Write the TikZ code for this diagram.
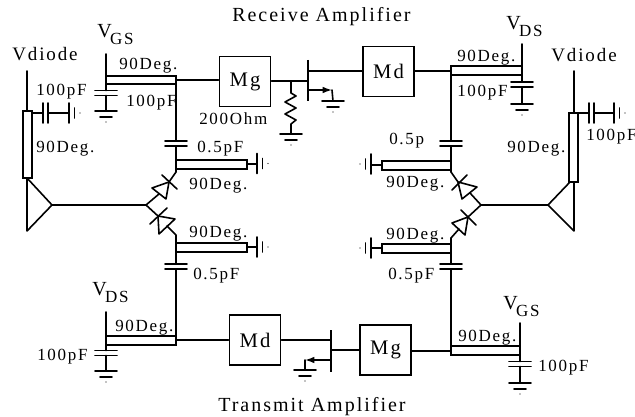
\documentclass[tikz,border=0pt]{standalone}
\usepackage{fontspec}
\setmainfont[LetterSpace=10]{Liberation Serif}
\usetikzlibrary{arrows.meta}
\newcommand{\vsub}[1]{\fontsize{15}{15}\selectfont V\kern-1.2pt\raisebox{-5.25pt}{\fontsize{12.75}{13}\selectfont #1}}
\tikzset{
  wire/.style={line width=1.2pt,line cap=round,line join=round},
  thinw/.style={line width=1pt,line cap=round},
  stubbox/.style={line width=1.3pt,line join=miter},
  lbl/.style={anchor=base west,inner sep=0pt,font=\fontsize{12.75}{13}\selectfont},
  big/.style={anchor=base west,inner sep=0pt,font=\fontsize{15}{15}\selectfont},
  amp/.style={draw,line width=1.2pt,inner sep=0pt,minimum width=38.5pt,minimum height=37.5pt,font=\fontsize{15.5}{16}\selectfont},
  vcap/.pic={\draw[wire] (-11,-2.5)--(11,-2.5) (-11,2.5)--(11,2.5);},
  hcap/.pic={\draw[wire] (-2.5,-10)--(-2.5,10) (2.5,-10)--(2.5,10);},
  gndd/.pic={\draw[wire] (-11,0)--(11,0) (-6,6)--(6,6); \fill (0,11) circle (0.7);},
  gndr/.pic={\draw[wire] (0,-10)--(0,10) (5.5,-5)--(5.5,5); \fill (11,0) circle (0.7);},
  gndl/.pic={\draw[wire] (0,-10)--(0,10) (-5.5,-5)--(-5.5,5); \fill (-11,0) circle (0.7);}
}
\begin{document}
\begin{tikzpicture}[x=0.75pt,y=-0.75pt]
\useasboundingbox (0,0) rectangle (635,417);
% ---------- named points
\coordinate (LVd) at (27,71);
\coordinate (LBa) at (23,111);
\coordinate (LBb) at (32,178);
\coordinate (LTop) at (27,111);
\coordinate (LTa) at (27,178);
\coordinate (LTb) at (27,231);
\coordinate (LTc) at (52,205);
\coordinate (LJ) at (146,205);
\coordinate (LCa) at (32,113);
\coordinate (LCb) at (43,113);
\coordinate (LCc) at (48,113);
\coordinate (LCd) at (69,113);
\coordinate (RVd) at (574,71);
\coordinate (RTop) at (574,113);
\coordinate (RBa) at (569,113);
\coordinate (RBb) at (578,182);
\coordinate (RTa) at (574,182);
\coordinate (RTa2) at (570,182);
\coordinate (RTb) at (574,231);
\coordinate (RTc) at (548,205);
\coordinate (RJ) at (481,205);
\coordinate (RCa) at (578,113);
\coordinate (RCb) at (589,113);
\coordinate (RCc) at (594,113);
\coordinate (RCd) at (614,113);
% ---------- amplifier boxes
\node[amp] (MgR) at (245,81.5) {Mg};
\node[amp] (MdR) at (388.5,71.5) {Md};
\node[amp] (MdT) at (255,340) {Md};
\node[amp] (MgT) at (385.5,350) {Mg};
% ---------- left antenna and bias
\draw[wire] (LVd)--(LTop);
\draw[stubbox] (LBa) rectangle (LBb);
\draw[wire] (LTa)--(LTb)--(LTc)--cycle;
\draw[wire] (LTc)--(LJ);
\draw[wire] (LCa)--(LCb) (LCc)--(LCd);
\path (45.5,113) pic {hcap};
\path (69,113) pic {gndr};
% ---------- right antenna and bias
\draw[wire] (RVd)--(RTop);
\draw[stubbox] (RBa) rectangle (RBb);
\draw[wire] (RTa2)--(RTc)--(RTb)--(RTa);
\draw[wire] (RTc)--(RJ);
\draw[wire] (RCa)--(RCb) (RCc)--(RCd);
\path (591.5,113) pic {hcap};
\path (614,113) pic {gndr};
% ---------- upper left branch
\coordinate (ULa) at (176,76);
\coordinate (ULb) at (176,172);
\coordinate (ULvg) at (106,54);
\coordinate (ULvb) at (106,84);
\coordinate (ULg) at (106,111);
\draw[stubbox] (106,76) rectangle (176,84);
\draw[wire] (ULvg)--(ULvb)--(106,90.5) (106,95.5)--(ULg);
\path (106,93) pic {vcap};
\path (ULg) pic {gndd};
\draw[wire] (ULa)--(176,141) (176,146)--(ULb);
\path (176,143.5) pic {vcap};
\draw[wire] (176,80)--(MgR.west |- 176,80);
\draw[stubbox] (176,160) rectangle (247,169);
\draw[wire] (247,164)--(257,164);
\path (257,163.5) pic {gndr};
% upper left diode
\coordinate (D1k) at (169,182);
\draw[wire] (ULb)--(D1k);
\draw[wire] (162,175)--(177,189);
\draw[wire] (D1k)--(152,188)--(166,199)--cycle;
\draw[wire] (159,194)--(LJ);
% lower left diode
\coordinate (D2k) at (158,216);
\draw[wire] (LJ)--(D2k);
\draw[wire] (150,224)--(167,208);
\draw[wire] (D2k)--(159,234)--(175,219)--cycle;
\draw[wire] (167,226)--(176,235)--(176,264);
\draw[stubbox] (176,243) rectangle (247,252);
\draw[wire] (247,247)--(257,247);
\path (257,247) pic {gndr};
\path (176,266.5) pic {vcap};
% ---------- lower left branch
\draw[wire] (176,269)--(176,345);
\draw[stubbox] (106,336) rectangle (176,345);
\draw[wire] (106,312)--(106,350.5) (106,355.5)--(106,371);
\path (106,353) pic {vcap};
\path (106,371) pic {gndd};
\draw[wire] (176,340)--(MdT.west |- 176,340);
% ---------- transmit FET
\draw[line width=1.3pt] (331,330)--(331,372);
\draw[thinw] (MdT.east |- 281,340)--(331,340);
\draw[thinw] (331,350)--(MgT.west |- 331,350);
\draw[wire,-{Latex[length=7pt,width=5pt]}] (331,360)--(305,360);
\draw[wire] (305,360)--(305,370);
\path (305,370) pic {gndd};
\draw[wire] (MgT.east |- 411,351)--(451,351);
% ---------- lower right branch
\draw[stubbox] (451,346) rectangle (520,355);
\draw[wire] (520,323)--(520,361.5) (520,366.5)--(520,383);
\path (520,364) pic {vcap};
\path (520,383) pic {gndd};
\draw[wire] (451,269)--(451,346);
\path (451,266.5) pic {vcap};
\draw[wire] (451,238)--(451,264);
\draw[stubbox] (382,244) rectangle (451,253);
\draw[wire] (382,248)--(371,248);
\path (371,248) pic {gndl};
% lower right diode
\coordinate (D4k) at (468,217);
\draw[wire] (RJ)--(D4k);
\draw[wire] (461,210)--(476,225);
\draw[wire] (D4k)--(452,223)--(465,235)--cycle;
\draw[wire] (459,229)--(451,238);
% upper right diode
\coordinate (D3k) at (458,182);
\draw[wire] (451,172)--(D3k);
\draw[wire] (452,190)--(467,175);
\draw[wire] (D3k)--(462,199)--(477,187)--cycle;
\draw[wire] (470,193)--(RJ);
% ---------- upper right branch
\draw[wire] (451,75)--(451,141) (451,146)--(451,172);
\path (451,143.5) pic {vcap};
\draw[stubbox] (382,161) rectangle (451,170);
\draw[wire] (382,165)--(371,165);
\path (371,164) pic {gndl};
\draw[stubbox] (451,66) rectangle (522,75);
\draw[wire] (MdR.east |- 414,71)--(451,71);
\draw[wire] (522,44)--(522,82) (522,87)--(522,104);
\path (522,84.5) pic {vcap};
\path (522,104) pic {gndd};
% ---------- receive FET
\draw[line width=1.3pt] (308,60)--(308,101);
\draw[thinw] (308,71)--(MdR.west |- 308,71);
\draw[wire] (MgR.east |- 271,81)--(308,81);
\draw[wire,-{Latex[length=7pt,width=5pt]}] (308,90)--(332,90);
\draw[wire] (332,90)--(333,101);
\path (333,101) pic {gndd};
% resistor
\draw[wire] (291,81)--(291,93)--(296,96)--(285,102)--(296,108)--(285,114)--(296,120)--(291,124)--(291,134);
\path (291,134) pic {gndd};
% ---------- labels
\node[big] (title1) at (232,22) {Receive Amplifier};
\node[big] (title2) at (218,411) {Transmit Amplifier};
\node[anchor=base west,inner sep=0pt,font=\fontsize{14.25}{15}\selectfont] (vdl) at (12,61) {Vdiode};
\node[anchor=base west,inner sep=0pt,font=\fontsize{14.25}{15}\selectfont] (vdr) at (551,62) {Vdiode};
\node[anchor=base west,inner sep=0pt] (vgs1) at (97,38) {\vsub{GS}};
\node[anchor=base west,inner sep=0pt] (vds1) at (92,295) {\vsub{DS}};
\node[anchor=base west,inner sep=0pt] (vds2) at (506,30) {\vsub{DS}};
\node[anchor=base west,inner sep=0pt] (vgs2) at (503,309) {\vsub{GS}};
\node[lbl] (a1) at (36,96) {100pF};
\node[lbl] (a2) at (119,70) {90Deg.};
\node[lbl] (a3) at (126,107) {100pF};
\node[lbl] (a4) at (36,153) {90Deg.};
\node[lbl] (a5) at (197,153) {0.5pF};
\node[lbl] (a6) at (189,190) {90Deg.};
\node[lbl] (a7) at (189,237) {90Deg.};
\node[lbl] (a8) at (193,279) {0.5pF};
\node[lbl] (a9) at (115,331) {90Deg.};
\node[lbl] (a10) at (37,360) {100pF};
\node[lbl] (a11) at (199,125) {200Ohm};
\node[lbl] (b1) at (457,62) {90Deg.};
\node[lbl] (b2) at (457,97) {100pF};
\node[lbl] (b3) at (586,141) {100pF};
\node[lbl] (b4) at (507,152) {90Deg.};
\node[lbl] (b5) at (389,145) {0.5p};
\node[lbl] (b6) at (386,188) {90Deg.};
\node[lbl] (b7) at (386,239) {90Deg.};
\node[lbl] (b8) at (388,279) {0.5pF};
\node[lbl] (b9) at (458,341) {90Deg.};
\node[lbl] (b10) at (538,371) {100pF};
\end{tikzpicture}
\end{document}
